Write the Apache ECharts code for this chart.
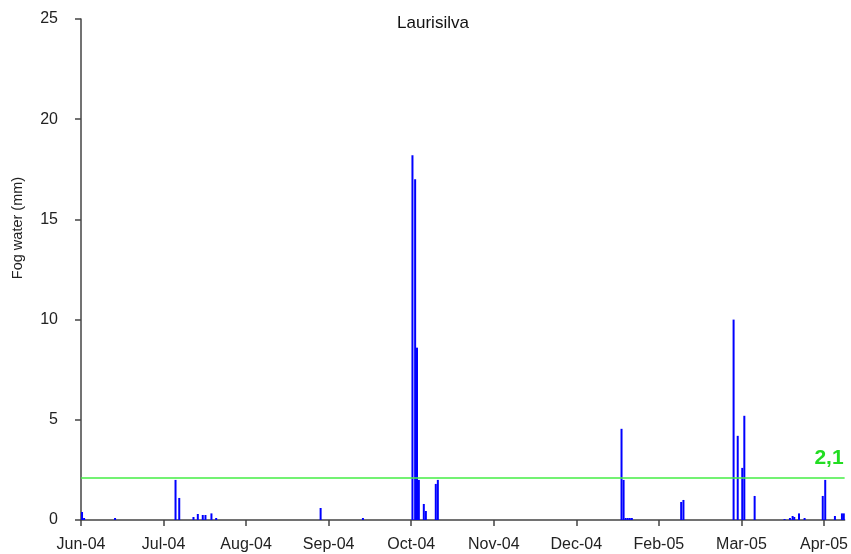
<!DOCTYPE html>
<html>
<head>
<meta charset="utf-8">
<script src="https://cdn.jsdelivr.net/npm/echarts@6/dist/echarts.min.js"></script>
<style>html,body{margin:0;padding:0;background:#fff;}#c{width:851px;height:554px;}</style>
</head>
<body>
<div id="c"></div>
<script>
// Time position (sampling steps from Jun-04 start) and fog water (mm)
var positions = [0.5, 1.5, 16.5, 45.8, 47.6, 54.5, 56.6, 59.0, 60.3, 63.2, 65.5, 116.1, 136.6,
  160.6, 161.9, 162.8, 163.7, 166.1, 167.1, 171.9, 172.9,
  261.9, 262.9, 263.9, 264.9, 265.9, 266.9,
  290.8, 291.9,
  316.2, 318.2, 320.4, 321.4, 326.4,
  340.9, 343.5, 344.8, 345.6, 347.9, 350.6,
  359.4, 360.6, 365.3, 368.7, 369.6];
var fogWater = [0.4, 0.1, 0.1, 2.0, 1.1, 0.15, 0.3, 0.25, 0.25, 0.33, 0.1, 0.6, 0.1,
  18.2, 17.0, 8.6, 2.0, 0.8, 0.45, 1.8, 2.0,
  4.55, 2.0, 0.1, 0.1, 0.1, 0.1,
  0.9, 1.0,
  10.0, 4.2, 2.6, 5.2, 1.2,
  0.05, 0.1, 0.2, 0.15, 0.33, 0.1,
  1.2, 2.0, 0.2, 0.33, 0.33];
var tickLabels = ['Jun-04', 'Jul-04', 'Aug-04', 'Sep-04', 'Oct-04', 'Nov-04', 'Dec-04', 'Feb-05', 'Mar-05', 'Apr-05'];
var tickStep = 40;
var axisEnd = 370;
var threshold = 2.1;
var thresholdLabel = '2,1';
var yTitle = 'Fog water (mm)';

var seriesData = positions.map(function (p, i) { return [p, fogWater[i]]; });

var chart = echarts.init(document.getElementById('c'));
chart.setOption({
  animation: false,
  title: {
    text: 'Laurisilva', left: 428, top: 10, textAlign: 'center',
    textStyle: { fontFamily: 'Liberation Sans, Arial', fontSize: 17, fontWeight: 'normal', color: '#111' }
  },
  graphic: [{
    type: 'text', x: 18, y: 228, rotation: Math.PI / 2,
    style: {
      text: yTitle, textAlign: 'center', textVerticalAlign: 'middle',
      font: '14.5px "Liberation Sans", Arial', fill: '#222'
    }
  }],
  grid: { left: 81, top: 19, right: 5, bottom: 34, containLabel: false },
  xAxis: {
    type: 'value', min: 0, max: axisEnd, interval: tickStep,
    splitLine: { show: false },
    axisLine: { lineStyle: { color: '#444', width: 1.5 } },
    axisTick: { show: true, length: 6, lineStyle: { color: '#444', width: 1.5 } },
    axisLabel: {
      margin: 17, fontFamily: 'Liberation Sans, Arial', fontSize: 16, color: '#222',
      showMaxLabel: false,
      formatter: function (v) { var k = Math.round(v / tickStep); return tickLabels[k] || ''; }
    }
  },
  yAxis: {
    type: 'value', min: 0, max: 25, interval: 5,
    splitLine: { show: false },
    axisLine: { show: true, lineStyle: { color: '#444', width: 1.5 } },
    axisTick: { show: true, length: 6, lineStyle: { color: '#444', width: 1.5 } },
    axisLabel: { margin: 23, fontFamily: 'Liberation Sans, Arial', fontSize: 16, color: '#222' }
  },
  series: [{
    type: 'bar', data: seriesData, barWidth: 2,
    itemStyle: { color: '#0000ff' },
    markLine: {
      silent: true, symbol: 'none',
      lineStyle: { color: '#44ee44', width: 1.5, type: 'solid' },
      label: {
        show: true, position: 'insideEndTop', formatter: thresholdLabel,
        fontFamily: 'Liberation Sans, Arial', fontSize: 21, fontWeight: 'bold', color: '#22dd22',
        distance: [1, 9]
      },
      data: [{ yAxis: threshold }]
    }
  }]
});
</script>
</body>
</html>
